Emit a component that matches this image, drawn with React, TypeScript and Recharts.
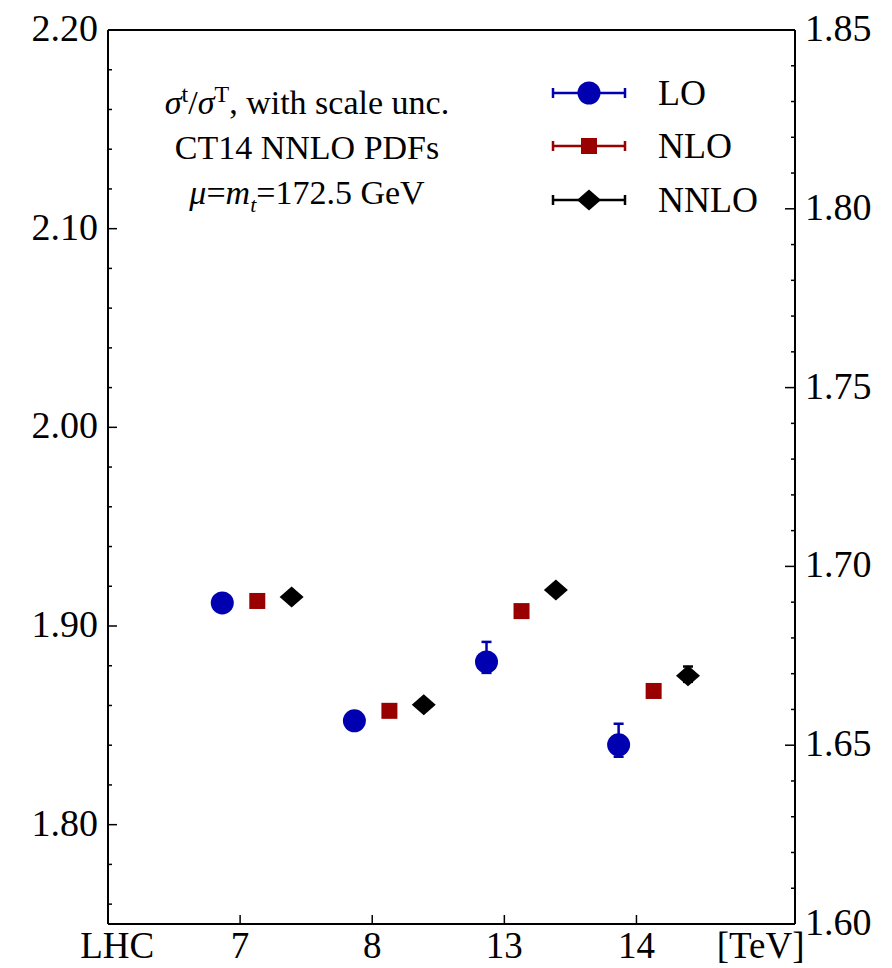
import React from 'react';
import { ScatterChart, Scatter, XAxis, YAxis, ErrorBar, ReferenceLine } from 'recharts';

// collision energies (category positions on the x axis)
const energyLabels = ['LHC', '7', '8', '13', '14', '[TeV]'];
const energyTicks = [0.07, 1, 2, 3, 4, 4.94];
const categoryPos = [1, 2, 3, 4];

// sigma(t) / sigma(tbar) ratio, CT14 NNLO, mu = mt
const loValues = [1.9116, 1.8523, 1.8819, 1.8402];
const loErrDown = [0, 0, 0.0055, 0.006];
const loErrUp = [0, 0, 0.0101, 0.0106];

const nloValues = [1.9126, 1.8573, 1.9075, 1.8673];
const nloErrDown = [0, 0, 0, 0];
const nloErrUp = [0, 0, 0, 0];

const nnloValues = [1.9146, 1.8603, 1.9181, 1.8749];
const nnloErrDown = [0, 0, 0, 0.003];
const nnloErrUp = [0, 0, 0, 0.0047];

const leftTicks = [1.76, 1.78, 1.8, 1.82, 1.84, 1.86, 1.88, 1.9, 1.92, 1.94, 1.96, 1.98, 2.0,
  2.02, 2.04, 2.06, 2.08, 2.1, 2.12, 2.14, 2.16, 2.18, 2.2];
const rightTicks = [1.6, 1.61, 1.62, 1.63, 1.64, 1.65, 1.66, 1.67, 1.68, 1.69, 1.7, 1.71, 1.72,
  1.73, 1.74, 1.75, 1.76, 1.77, 1.78, 1.79, 1.8, 1.81, 1.82, 1.83, 1.84, 1.85];

const BLUE = '#0000b0';
const RED = '#990000';
const BLACK = '#000000';
const FONT = '"Liberation Serif", "Times New Roman", serif';

const build = (shift: number, vals: number[], lo: number[], hi: number[]) =>
  categoryPos.map((p, i) => ({ x: p + shift, y: vals[i], err: [lo[i], hi[i]] }));

const loData = build(-0.135, loValues, loErrDown, loErrUp);
const nloData = build(0.13, nloValues, nloErrDown, nloErrUp);
const nnloData = build(0.39, nnloValues, nnloErrDown, nnloErrUp);

const isMult = (v: number, k: number) => Math.abs(v * k - Math.round(v * k)) < 1e-6;

const Circle = ({ cx, cy, fill }: any) => <circle cx={cx} cy={cy} r={11.5} fill={fill} />;
const Square = ({ cx, cy, fill }: any) => <rect x={cx - 8} y={cy - 8} width={16} height={16} fill={fill} />;
const Diamond = ({ cx, cy, fill }: any) => (
  <polygon points={`${cx - 12},${cy} ${cx},${cy - 10.5} ${cx + 12},${cy} ${cx},${cy + 10.5}`} fill={fill} />
);

const BottomTick = (props: any) => {
  const { x, y, payload } = props;
  const i = energyTicks.indexOf(payload.value);
  const withLine = i > 0 && i < energyTicks.length - 1;
  return (
    <g>
      {withLine && <line x1={x} x2={x} y1={y} y2={y - 9} stroke={BLACK} strokeWidth={1.5} />}
      <text x={x} y={y + 34} textAnchor="middle" fontSize={37} fontFamily={FONT} fill={BLACK}>
        {energyLabels[i]}
      </text>
    </g>
  );
};

const LeftTick = (props: any) => {
  const { x, y, payload } = props;
  const major = isMult(payload.value, 10);
  return (
    <g>
      <line x1={x} x2={x + (major ? 9 : 4)} y1={y} y2={y} stroke={BLACK} strokeWidth={1.5} />
      {major && (
        <text x={x - 10} y={y + 11} textAnchor="end" fontSize={38} fontFamily={FONT} fill={BLACK}>
          {payload.value.toFixed(2)}
        </text>
      )}
    </g>
  );
};

const RightTick = (props: any) => {
  const { x, y, payload } = props;
  const major = isMult(payload.value, 20);
  return (
    <g>
      <line x1={x} x2={x - (major ? 10 : 4)} y1={y} y2={y} stroke={BLACK} strokeWidth={1.5} />
      {major && (
        <text x={x + 10} y={y + 11} textAnchor="start" fontSize={38} fontFamily={FONT} fill={BLACK}>
          {payload.value.toFixed(2)}
        </text>
      )}
    </g>
  );
};

const legendItems = [
  { name: 'LO', color: BLUE, shape: 'circle' },
  { name: 'NLO', color: RED, shape: 'square' },
  { name: 'NNLO', color: BLACK, shape: 'diamond' },
];

const LegendIcon = ({ color, shape }: { color: string; shape: string }) => (
  <svg width={76} height={30} style={{ display: 'block' }}>
    <line x1={2} x2={74} y1={15} y2={15} stroke={color} strokeWidth={2.5} />
    <line x1={2} x2={2} y1={10} y2={20} stroke={color} strokeWidth={2.5} />
    <line x1={74} x2={74} y1={10} y2={20} stroke={color} strokeWidth={2.5} />
    {shape === 'circle' && <circle cx={38} cy={15} r={11.5} fill={color} />}
    {shape === 'square' && <rect x={30} y={7} width={16} height={16} fill={color} />}
    {shape === 'diamond' && <polygon points="26,15 38,4.5 50,15 38,25.5" fill={color} />}
  </svg>
);

const App: React.FC = () => {
  return (
    <div style={{ position: 'absolute', left: 0, top: 0, width: 892, height: 968, background: '#fff' }}>
      <ScatterChart width={892} height={968} margin={{ top: 30, right: 37, bottom: 14, left: 48 }}>
        <XAxis
          type="number"
          dataKey="x"
          domain={[0, 5.2]}
          ticks={energyTicks}
          interval={0}
          tick={<BottomTick />}
          tickLine={false}
          tickSize={0}
          tickMargin={0}
          height={30}
          axisLine={{ stroke: BLACK, strokeWidth: 2 }}
          allowDataOverflow
        />
        <YAxis
          yAxisId="left"
          type="number"
          dataKey="y"
          domain={[1.75, 2.2]}
          ticks={leftTicks}
          interval={0}
          tick={<LeftTick />}
          tickLine={false}
          tickSize={0}
          tickMargin={0}
          width={60}
          axisLine={{ stroke: BLACK, strokeWidth: 2 }}
          allowDataOverflow
        />
        <YAxis
          yAxisId="right"
          orientation="right"
          type="number"
          domain={[1.6, 1.85]}
          ticks={rightTicks}
          interval={0}
          tick={<RightTick />}
          tickLine={false}
          tickSize={0}
          tickMargin={0}
          width={60}
          axisLine={{ stroke: BLACK, strokeWidth: 2 }}
          allowDataOverflow
        />
        <ReferenceLine yAxisId="left" y={2.2} stroke={BLACK} strokeWidth={2} />
        <Scatter yAxisId="left" name="LO" data={loData} fill={BLUE} shape={<Circle />} isAnimationActive={false}>
          <ErrorBar dataKey="err" direction="y" width={5} stroke={BLUE} strokeWidth={2.5} />
        </Scatter>
        <Scatter yAxisId="left" name="NLO" data={nloData} fill={RED} shape={<Square />} isAnimationActive={false}>
          <ErrorBar dataKey="err" direction="y" width={5} stroke={RED} strokeWidth={2.5} />
        </Scatter>
        <Scatter yAxisId="left" name="NNLO" data={nnloData} fill={BLACK} shape={<Diamond />} isAnimationActive={false}>
          <ErrorBar dataKey="err" direction="y" width={5} stroke={BLACK} strokeWidth={2.5} />
        </Scatter>
      </ScatterChart>

      <div
        style={{
          position: 'absolute', left: 107, top: 72, width: 400, textAlign: 'center',
          fontFamily: FONT, fontSize: 34, lineHeight: '45px', color: BLACK,
        }}
      >
        <div>
          <i>σ</i><sup style={{ fontSize: 24 }}>t</sup>/<i>σ</i><sup style={{ fontSize: 24 }}>T</sup>, with scale unc.
        </div>
        <div>CT14 NNLO PDFs</div>
        <div>
          <i>μ</i>=<i>m</i><sub style={{ fontSize: 22 }}><i>t</i></sub>=172.5 GeV
        </div>
      </div>

      <div style={{ position: 'absolute', left: 551, top: 66, fontFamily: FONT, fontSize: 36, color: BLACK }}>
        {legendItems.map((it) => (
          <div key={it.name} style={{ display: 'flex', alignItems: 'center', height: 53.5 }}>
            <LegendIcon color={it.color} shape={it.shape} />
            <span style={{ marginLeft: 31, lineHeight: '40px' }}>{it.name}</span>
          </div>
        ))}
      </div>
    </div>
  );
};

export default App;
